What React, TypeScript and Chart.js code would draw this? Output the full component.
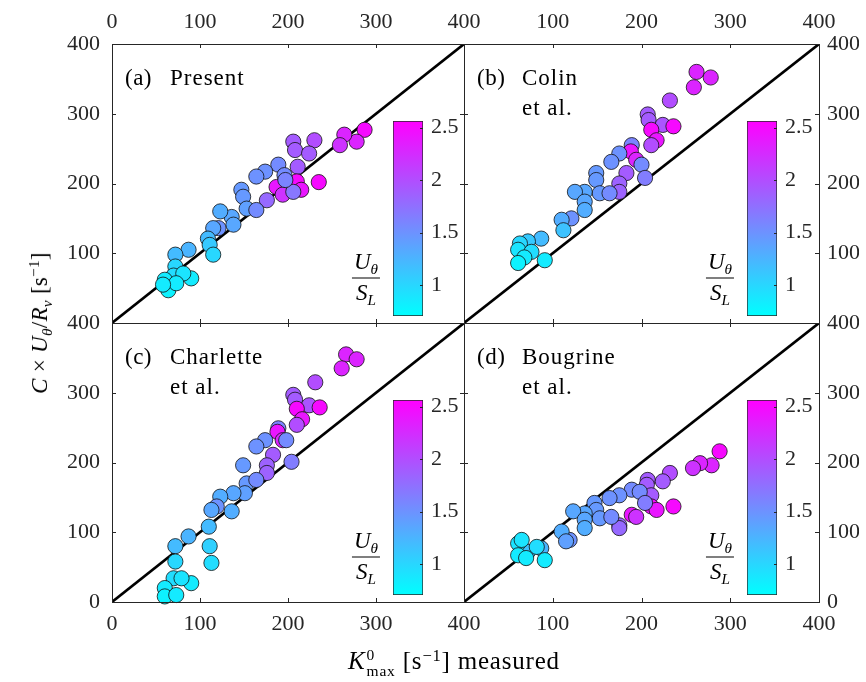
import React, { useEffect, useRef, Fragment } from 'react';
import { Chart, registerables } from 'chart.js';
Chart.register(...registerables);

const W = 866;
const H = 682;
const FONT = '"Liberation Serif", "Times New Roman", serif';
const INK = '#262626';

const axisMin = 0;
const axisMax = 400;
const axisTicks = [0, 100, 200, 300, 400];
const cMin = 0.705;
const cMax = 2.564;
const cbTicks = [1, 1.5, 2, 2.5];

// [K measured, model value, U_theta/S_L]
const presentPts = [
  [287, 277, 2.5], [278, 260, 2.3], [264, 270, 2.3], [259, 255, 2.2], [230, 262, 2.0],
  [206, 260, 1.9], [208, 248, 1.9], [224, 243, 1.9], [211, 224, 1.9], [235, 202, 2.5],
  [210, 203, 2.5], [215, 191, 2.4], [187, 195, 2.4], [194, 184, 2.2], [206, 188, 1.7],
  [189, 227, 1.55], [174, 217, 1.5], [164, 210, 1.5], [196, 212, 1.55], [197, 205, 1.6],
  [176, 176, 1.8], [147, 191, 1.45], [149, 181, 1.45], [153, 164, 1.4], [164, 162, 1.55],
  [136, 152, 1.35], [123, 160, 1.3], [138, 141, 1.35], [121, 136, 1.5], [115, 136, 1.35],
  [109, 121, 1.2], [111, 112, 1.1], [115, 98, 1.0], [87, 105, 1.25], [72, 98, 1.2],
  [72, 81, 1.0], [70, 68, 0.95], [90, 64, 0.85], [81, 71, 0.9], [60, 62, 0.85],
  [64, 47, 0.8], [73, 57, 0.85], [58, 55, 0.85],
];
const colinPts = [
  [262, 360, 2.3], [278, 352, 2.3], [259, 338, 2.3], [232, 319, 2.0], [207, 299, 1.9],
  [208, 291, 1.9], [224, 284, 1.95], [236, 282, 2.5], [211, 277, 2.5], [217, 262, 2.4],
  [211, 255, 2.0], [189, 255, 1.6], [188, 246, 2.4], [194, 234, 2.3], [175, 243, 1.5],
  [166, 231, 1.5], [200, 227, 1.55], [204, 208, 1.65], [183, 215, 1.9], [175, 200, 1.85],
  [175, 188, 1.85], [149, 215, 1.45], [149, 205, 1.45], [153, 186, 1.45], [164, 186, 1.55],
  [136, 188, 1.35], [125, 188, 1.35], [136, 174, 1.35], [136, 162, 1.3], [121, 150, 1.5],
  [110, 148, 1.3], [112, 133, 1.15], [87, 121, 1.2], [72, 117, 1.1], [63, 114, 1.0],
  [61, 105, 0.9], [76, 102, 0.95], [91, 90, 0.85], [68, 94, 0.85], [61, 86, 0.8],
];
const charlettePts = [
  [266, 355, 2.3], [278, 348, 2.3], [261, 335, 2.3], [231, 315, 2.0], [206, 297, 1.9],
  [208, 290, 1.9], [224, 282, 1.95], [236, 279, 2.5], [210, 277, 2.5], [216, 262, 2.4],
  [210, 254, 2.0], [189, 249, 1.6], [188, 244, 2.4], [194, 232, 2.3], [198, 232, 1.55],
  [174, 232, 1.5], [164, 223, 1.5], [204, 201, 1.65], [183, 211, 1.9], [176, 196, 1.85],
  [176, 185, 1.85], [149, 196, 1.45], [153, 170, 1.45], [164, 175, 1.55], [151, 156, 1.4],
  [138, 156, 1.35], [123, 151, 1.3], [136, 130, 1.3], [119, 137, 1.5], [113, 132, 1.35],
  [110, 108, 1.2], [111, 80, 1.05], [113, 56, 0.95], [87, 94, 1.25], [72, 80, 1.2],
  [72, 58, 1.0], [70, 34, 0.95], [90, 27, 0.85], [79, 34, 0.9], [60, 20, 0.85],
  [60, 8, 0.8], [73, 10, 0.85],
];
const bougrinePts = [
  [288, 216, 2.5], [279, 196, 2.3], [266, 199, 2.3], [258, 192, 2.2], [232, 185, 2.0],
  [207, 175, 1.9], [206, 168, 1.9], [224, 173, 1.9], [211, 153, 1.9], [236, 137, 2.5],
  [211, 137, 2.5], [217, 132, 2.4], [189, 125, 2.4], [194, 122, 2.2], [175, 110, 1.8],
  [175, 106, 1.8], [189, 161, 1.55], [198, 158, 1.55], [175, 153, 1.5], [164, 149, 1.5],
  [204, 142, 1.65], [147, 142, 1.45], [149, 132, 1.45], [153, 120, 1.45], [166, 122, 1.55],
  [136, 127, 1.35], [123, 130, 1.35], [136, 118, 1.35], [136, 106, 1.3], [119, 89, 1.5],
  [110, 101, 1.3], [115, 87, 1.4], [87, 77, 1.25], [72, 72, 1.15], [61, 84, 0.9],
  [65, 89, 0.9], [82, 79, 0.95], [61, 67, 0.85], [70, 63, 0.85], [91, 60, 0.85],
];

const panels = [
  { id: 'a', pts: presentPts, rect: { l: 112, t: 44, r: 464, b: 323 }, xPos: 'top', yPos: 'left', hideX0: false, hideY0: true, tag: '(a)', lines: ['Present'] },
  { id: 'b', pts: colinPts, rect: { l: 464, t: 44, r: 819, b: 323 }, xPos: 'top', yPos: 'right', hideX0: true, hideY0: true, tag: '(b)', lines: ['Colin', 'et al.'] },
  { id: 'c', pts: charlettePts, rect: { l: 112, t: 323, r: 464, b: 602 }, xPos: 'bottom', yPos: 'left', hideX0: false, hideY0: false, tag: '(c)', lines: ['Charlette', 'et al.'] },
  { id: 'd', pts: bougrinePts, rect: { l: 464, t: 323, r: 819, b: 602 }, xPos: 'bottom', yPos: 'right', hideX0: true, hideY0: false, tag: '(d)', lines: ['Bougrine', 'et al.'] },
];

function coolColor(c: number) {
  let t = (c - cMin) / (cMax - cMin);
  t = Math.max(0, Math.min(1, t));
  return `rgb(${Math.round(255 * t)},${Math.round(255 * (1 - t))},255)`;
}

function cbRect(p: any) {
  const { l, t, r } = p.rect;
  const left = Math.round(l + 0.797 * (r - l));
  return { l: left, r: left + 30, t: t + 77, b: t + 272 };
}

const framePlugin = {
  id: 'frame',
  afterDraw(chart: any) {
    const { ctx, chartArea: a } = chart;
    const xs = chart.scales.x;
    const ys = chart.scales.y;
    const L = 4;
    ctx.save();
    ctx.strokeStyle = INK;
    ctx.lineWidth = 1;
    ctx.strokeRect(a.left + 0.5, a.top + 0.5, a.right - a.left, a.bottom - a.top);
    ctx.beginPath();
    xs.ticks.forEach((t: any) => {
      const px = Math.round(xs.getPixelForValue(t.value)) + 0.5;
      ctx.moveTo(px, a.top); ctx.lineTo(px, a.top + L);
      ctx.moveTo(px, a.bottom); ctx.lineTo(px, a.bottom - L);
    });
    ys.ticks.forEach((t: any) => {
      const py = Math.round(ys.getPixelForValue(t.value)) + 0.5;
      ctx.moveTo(a.left, py); ctx.lineTo(a.left + L, py);
      ctx.moveTo(a.right, py); ctx.lineTo(a.right - L, py);
    });
    ctx.stroke();
    ctx.restore();
  },
};

const cbTickPlugin = {
  id: 'cbticks',
  afterDraw(chart: any) {
    const { ctx, chartArea: a } = chart;
    const ys = chart.scales.y;
    ctx.save();
    ctx.strokeStyle = INK;
    ctx.lineWidth = 1;
    ctx.beginPath();
    ys.ticks.forEach((t: any) => {
      const py = Math.round(ys.getPixelForValue(t.value)) + 0.5;
      ctx.moveTo(a.right, py); ctx.lineTo(a.right - 3, py);
    });
    ctx.stroke();
    ctx.restore();
  },
};

function makePanel(canvas: HTMLCanvasElement, p: any) {
  const { l, t, r, b } = p.rect;
  const XH = 40;
  const YW = p.yPos === 'left' ? 60 : 40;
  const padding = {
    left: p.yPos === 'left' ? l - YW : l,
    right: p.yPos === 'right' ? W - r - YW : W - r,
    top: p.xPos === 'top' ? t - XH : t,
    bottom: p.xPos === 'bottom' ? H - b - XH : H - b,
  };
  const tickFont = { family: FONT, size: 22 };
  return new Chart(canvas, {
    type: 'scatter',
    data: {
      datasets: [
        {
          type: 'scatter',
          data: p.pts.map((q: number[]) => ({ x: q[0], y: q[1] })),
          pointRadius: 7.6,
          pointBackgroundColor: p.pts.map((q: number[]) => coolColor(q[2])),
          pointBorderColor: '#111',
          pointBorderWidth: 0.8,
          order: 1,
          clip: false,
        } as any,
        {
          type: 'line',
          data: [{ x: axisMin, y: axisMin }, { x: axisMax, y: axisMax }],
          borderColor: '#000',
          borderWidth: 2.6,
          pointRadius: 0,
          showLine: true,
          order: 2,
        } as any,
      ],
    },
    options: {
      animation: false,
      responsive: false,
      devicePixelRatio: 1,
      events: [],
      layout: { autoPadding: false, padding },
      plugins: { legend: { display: false }, tooltip: { enabled: false } },
      scales: {
        x: {
          type: 'linear',
          position: p.xPos,
          min: axisMin,
          max: axisMax,
          afterBuildTicks: (s: any) => { s.ticks = axisTicks.map((v) => ({ value: v })); },
          afterFit: (s: any) => { s.height = XH; },
          ticks: {
            font: tickFont, color: INK, padding: 9, maxRotation: 0, autoSkip: false,
            callback: (v: any) => (p.hideX0 && v === 0 ? '' : String(v)),
          },
          grid: { display: false, drawTicks: false },
          border: { display: false },
        },
        y: {
          type: 'linear',
          position: p.yPos,
          min: axisMin,
          max: axisMax,
          afterBuildTicks: (s: any) => { s.ticks = axisTicks.map((v) => ({ value: v })); },
          afterFit: (s: any) => { s.width = YW; },
          ticks: {
            font: tickFont, color: INK, padding: p.yPos === 'left' ? 12 : 8, autoSkip: false,
            callback: (v: any) => (p.hideY0 && v === 0 ? '' : String(v)),
          },
          grid: { display: false, drawTicks: false },
          border: { display: false },
        },
      },
    } as any,
    plugins: [framePlugin],
  });
}

function makeColorbar(canvas: HTMLCanvasElement, p: any) {
  const cb = cbRect(p);
  const YW = 40;
  return new Chart(canvas, {
    type: 'bar',
    data: {
      labels: [''],
      datasets: [
        {
          data: [[cMin, cMax]],
          backgroundColor: (ctx: any) => {
            const ch = ctx.chart;
            const a = ch.chartArea;
            if (!a) return 'rgb(0,255,255)';
            const g = ch.ctx.createLinearGradient(0, a.bottom, 0, a.top);
            g.addColorStop(0, 'rgb(0,255,255)');
            g.addColorStop(1, 'rgb(255,0,255)');
            return g;
          },
          borderColor: INK,
          borderWidth: 1,
          borderSkipped: false,
          barPercentage: 1,
          categoryPercentage: 1,
        } as any,
      ],
    },
    options: {
      animation: false,
      responsive: false,
      devicePixelRatio: 1,
      events: [],
      layout: { autoPadding: false, padding: { left: cb.l, right: W - cb.r - YW, top: cb.t, bottom: H - cb.b } },
      plugins: { legend: { display: false }, tooltip: { enabled: false } },
      scales: {
        x: { display: false },
        y: {
          type: 'linear',
          position: 'right',
          min: cMin,
          max: cMax,
          afterBuildTicks: (s: any) => { s.ticks = cbTicks.map((v) => ({ value: v })); },
          afterFit: (s: any) => { s.width = YW; },
          ticks: { font: { family: FONT, size: 22 }, color: INK, padding: 8, callback: (v: any) => String(v) },
          grid: { display: false, drawTicks: false },
          border: { display: false },
        },
      },
    } as any,
    plugins: [cbTickPlugin],
  });
}

const subStyle: React.CSSProperties = { fontSize: '0.66em', position: 'relative', top: '0.35em', fontStyle: 'italic' };
const supStyle: React.CSSProperties = { fontSize: '0.66em', position: 'relative', top: '-0.5em' };

function Frac({ x, y }: { x: number; y: number }) {
  return (
    <div style={{ position: 'absolute', left: x, top: y, transform: 'translate(-50%, -50%)', display: 'flex', flexDirection: 'column', alignItems: 'center', fontFamily: FONT, fontSize: 23, lineHeight: '22px', color: '#000' }}>
      <div style={{ borderBottom: '1.6px solid #000', padding: '0 2px 3px', whiteSpace: 'nowrap' }}>
        <i>U</i><span style={subStyle}>θ</span>
      </div>
      <div style={{ padding: '3px 2px 0', whiteSpace: 'nowrap' }}>
        <i>S</i><span style={subStyle}>L</span>
      </div>
    </div>
  );
}

export default function App() {
  const refs = useRef<(HTMLCanvasElement | null)[]>([]);
  useEffect(() => {
    const charts: Chart[] = [];
    panels.forEach((p, i) => {
      const c1 = refs.current[2 * i];
      const c2 = refs.current[2 * i + 1];
      if (c1) charts.push(makePanel(c1, p));
      if (c2) charts.push(makeColorbar(c2, p));
    });
    return () => charts.forEach((c) => c.destroy());
  }, []);

  const canvasStyle: React.CSSProperties = { position: 'absolute', left: 0, top: 0, width: W, height: H };

  return (
    <div style={{ position: 'absolute', left: 0, top: 0, width: W, height: H, background: '#fff', overflow: 'hidden', fontFamily: FONT, color: '#000' }}>
      {panels.map((p, i) => (
        <Fragment key={p.id}>
          <canvas ref={(el) => { refs.current[2 * i] = el; }} width={W} height={H} style={canvasStyle} />
          <canvas ref={(el) => { refs.current[2 * i + 1] = el; }} width={W} height={H} style={canvasStyle} />
        </Fragment>
      ))}
      {panels.map((p) => {
        const cb = cbRect(p);
        return (
          <Fragment key={'t' + p.id}>
            <div style={{ position: 'absolute', left: p.rect.l + 13, top: p.rect.t + 19, fontSize: 23, lineHeight: '30px', letterSpacing: '0.5px' }}>{p.tag}</div>
            <div style={{ position: 'absolute', left: p.rect.l + 58, top: p.rect.t + 19, fontSize: 23, lineHeight: '30px', letterSpacing: '1px', whiteSpace: 'nowrap' }}>
              {p.lines.map((s) => (<div key={s}>{s}</div>))}
            </div>
            <Frac x={cb.l - 27} y={p.rect.t + 234} />
          </Fragment>
        );
      })}
      <div style={{ position: 'absolute', left: 40, top: 323, transform: 'translate(-50%, -50%) rotate(-90deg)', whiteSpace: 'nowrap', fontSize: 23, letterSpacing: '0.3px' }}>
        <i>C</i> × <i>U</i><span style={subStyle}>θ</span>/<i>R</i><span style={subStyle}>v</span>{'  '}[s<span style={supStyle}>−1</span>]
      </div>
      <div style={{ position: 'absolute', left: 454, top: 663, transform: 'translate(-50%, -50%)', whiteSpace: 'nowrap', fontSize: 25, letterSpacing: '0.8px' }}>
        <i>K</i>
        <span style={{ display: 'inline-flex', flexDirection: 'column', verticalAlign: 'middle', fontSize: '0.62em', lineHeight: 1.05, marginLeft: 1 }}>
          <span>0</span><span>max</span>
        </span>{' '}[s<span style={supStyle}>−1</span>] measured
      </div>
    </div>
  );
}
